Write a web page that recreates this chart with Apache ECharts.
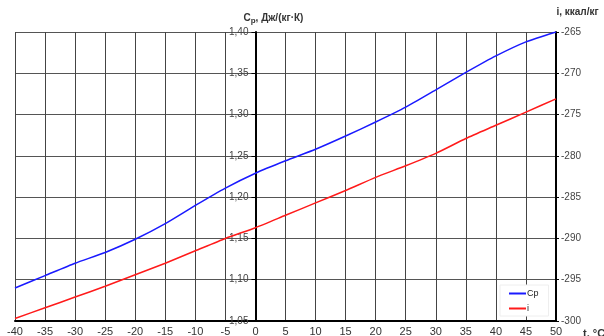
<!DOCTYPE html>
<html>
<head>
<meta charset="utf-8">
<script src="https://cdn.jsdelivr.net/npm/echarts@6/dist/echarts.min.js"></script>
<style>
html,body{margin:0;padding:0;background:#fff;}
#chart{width:604px;height:336px;}
</style>
</head>
<body>
<div id="chart"></div>
<script>
// Temperature, °C
const temperatures = [-40, -35, -30, -25, -20, -15, -10, -5, 0, 5, 10, 15, 20, 25, 30, 35, 40, 45, 50];
// Specific heat capacity Cp, Дж/(кг·К)
const cpValues = [1.090, 1.105, 1.120, 1.133, 1.149, 1.168, 1.190, 1.211, 1.229, 1.244, 1.258, 1.274, 1.291, 1.309, 1.330, 1.351, 1.371, 1.388, 1.400];
// Enthalpy i, ккал/кг
const iValues = [-299.7, -298.4, -297.1, -295.8, -294.4, -293.0, -291.5, -290.0, -288.7, -287.2, -285.7, -284.2, -282.6, -281.2, -279.7, -277.9, -276.3, -274.7, -273.1];
const seriesNames = ['Cp', 'i'];

const font = '"Liberation Sans", Arial, sans-serif';
const gridLeft = 15, gridRight = 48, chartWidth = 604;
const xMin = -40, xMax = 50;
// shift the Cp axis from the left edge of the grid to t = 0
const zeroOffset = (chartWidth - gridLeft - gridRight) * (0 - xMin) / (xMax - xMin);

const chart = echarts.init(document.getElementById('chart'), null, {renderer: 'canvas'});

chart.setOption({
  animation: false,
  backgroundColor: '#fff',
  grid: {left: gridLeft, right: gridRight, top: 32, bottom: 15, containLabel: false, outerBoundsMode: 'none'},
  legend: {
    data: seriesNames,
    orient: 'vertical',
    left: 500,
    top: 285,
    padding: [4, 10, 3, 9],
    backgroundColor: '#fff',
    borderColor: '#eeeeee',
    borderWidth: 1,
    itemWidth: 17,
    itemHeight: 2,
    itemGap: 6,
    icon: 'rect',
    textStyle: {fontFamily: font, fontSize: 9, color: '#222', padding: [0, 0, 0, -4]}
  },
  xAxis: {
    type: 'value',
    min: xMin, max: xMax, interval: 5,
    name: 't, °C',
    nameLocation: 'end',
    nameGap: 27,
    nameTextStyle: {fontFamily: font, fontSize: 11, fontWeight: 'bold', color: '#333', align: 'left', verticalAlign: 'top', padding: [7, 0, 0, 0]},
    axisLine: {onZero: false, lineStyle: {color: '#000', width: 2}},
    axisTick: {show: false},
    axisLabel: {fontFamily: font, fontSize: 11, color: '#333', margin: 5},
    splitLine: {show: true, lineStyle: {color: '#444', width: 1}}
  },
  yAxis: [{
    type: 'value',
    min: 1.05, max: 1.40, interval: 0.05,
    position: 'left',
    offset: -zeroOffset,
    name: '{b|C}{s|p}{b|, Дж/(кг·К)}',
    nameLocation: 'end',
    nameGap: 7,
    nameTextStyle: {
      align: 'center',
      padding: [0, 0, 0, 36],
      rich: {
        b: {fontFamily: font, fontSize: 10, fontWeight: 'bold', color: '#333'},
        s: {fontFamily: font, fontSize: 8, fontWeight: 'bold', color: '#333', padding: [5, 0, 0, 0]}
      }
    },
    axisLine: {show: true, onZero: false, lineStyle: {color: '#000', width: 2}},
    axisTick: {show: true, length: 4, lineStyle: {color: '#000', width: 1}},
    axisLabel: {
      fontFamily: font, fontSize: 10, color: '#444', margin: 7,
      formatter: v => v.toFixed(2).replace('.', ',')
    },
    splitLine: {show: true, lineStyle: {color: '#555', width: 1}}
  }, {
    type: 'value',
    min: -300, max: -265, interval: 5,
    position: 'right',
    name: 'i, ккал/кг',
    nameLocation: 'end',
    nameGap: 15,
    nameTextStyle: {fontFamily: font, fontSize: 10, fontWeight: 'bold', color: '#333', align: 'center', padding: [0, 0, 0, 43]},
    axisLine: {show: true, onZero: false, lineStyle: {color: '#000', width: 2}},
    axisTick: {show: true, length: 3, lineStyle: {color: '#000'}},
    axisLabel: {fontFamily: font, fontSize: 10, color: '#444', margin: 5},
    splitLine: {show: false}
  }],
  series: [{
    name: seriesNames[0],
    type: 'line',
    yAxisIndex: 0,
    data: temperatures.map((t, k) => [t, cpValues[k]]),
    showSymbol: false,
    smooth: 0.2,
    lineStyle: {color: '#1a1aff', width: 1.5},
    itemStyle: {color: '#1a1aff'}
  }, {
    name: seriesNames[1],
    type: 'line',
    yAxisIndex: 1,
    data: temperatures.map((t, k) => [t, iValues[k]]),
    showSymbol: false,
    smooth: 0.2,
    lineStyle: {color: '#ff1a1a', width: 1.5},
    itemStyle: {color: '#ff1a1a'}
  }]
});
</script>
</body>
</html>
